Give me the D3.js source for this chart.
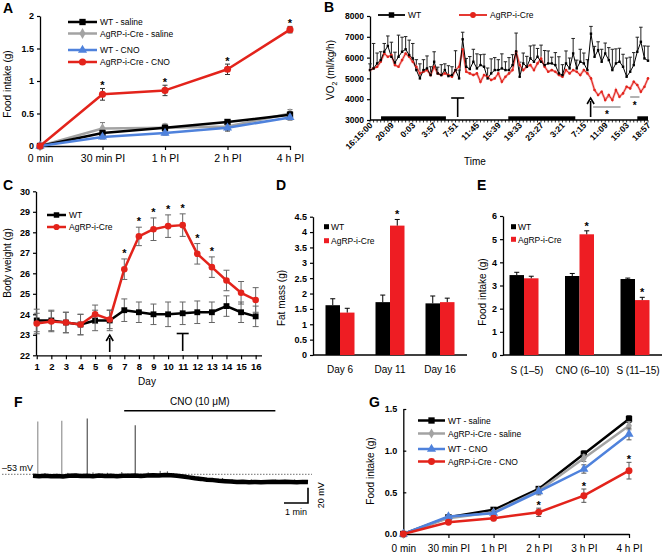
<!DOCTYPE html>
<html>
<head>
<meta charset="utf-8">
<script src="https://cdn.jsdelivr.net/npm/d3@7/dist/d3.min.js"></script>
<style>
  html,body{margin:0;padding:0;background:#fff;}
  svg{display:block;}
</style>
</head>
<body>
<svg id="fig" width="665" height="557"></svg>
<script>
// ================= DATA =================
// Panel A
const catsA = ["0 min","30 min PI","1 h PI","2 h PI","4 h PI"];
const yTicksA = [0,0.5,1,1.5,2];
const legendA = ["WT - saline","AgRP-i-Cre - saline","WT - CNO","AgRP-i-Cre - CNO"];
const wtSalineA = [0,0.20,0.28,0.37,0.48];
const wtSalineErrA = [0,0.04,0.04,0.03,0.05];
const agrpSalineA = [0,0.27,0.28,0.30,0.50];
const agrpSalineErrA = [0,0.09,0.06,0.05,0.06];
const wtCnoA = [0,0.14,0.20,0.28,0.44];
const wtCnoErrA = [0,0.03,0.03,0.05,0.04];
const agrpCnoA = [0,0.795,0.855,1.18,1.79];
const agrpCnoErrA = [0,0.09,0.08,0.08,0.05];
const starsA = [0,1,1,1,1];

// Panel B
const timeLabelsB = ["16:15:00","20:09","0:03","3:57","7:51","11:45","15:39","19:33","23:27","3:21","7:15","11:09","15:03","18:57"];
const samplesPerLabelB = 6;
const yTicksB = [3000,4000,5000,6000,7000,8000];
const legendB = ["WT","AgRP-i-Cre"];
const wtVO2 = [5400,5480,5720,5880,6280,6560,6040,5760,6040,6280,6400,6120,5960,5400,5000,5400,5480,5160,5800,5240,
  5160,5400,5110,5160,5400,5000,6880,5560,5450,5800,5480,5640,5560,5000,5240,5400,5400,5480,5400,5400,
  5640,6300,5080,5720,5560,5960,5800,6040,5800,5640,5720,5720,5640,5240,5160,5720,5480,6200,5480,5800,
  5720,5400,7150,6040,6360,5800,6200,5880,5400,5720,5800,5560,5080,5320,5640,6280,6760,5960,5850];
const wtVO2Err = [300,1200,500,400,400,480,700,500,1040,700,610,720,720,500,700,500,600,400,480,300,
  500,300,500,400,930,400,340,400,600,600,700,500,600,500,700,600,500,700,400,600,
  500,880,700,500,500,600,800,400,800,700,600,300,600,800,500,600,500,720,400,600,
  500,500,350,500,400,600,500,600,1000,700,650,600,900,700,600,700,700,600,700];
const agrpVO2 = [5400,5480,5560,5800,6200,6040,6120,5640,5560,5880,6200,6040,5800,5560,5240,5320,5400,5160,5560,5240,
  5160,5240,5160,5080,5400,5560,6400,5320,5240,5160,5240,4840,5160,5080,4920,5000,5240,4840,5080,5240,
  5400,6280,5640,5400,5560,5640,5400,5720,5960,5560,5320,5400,5320,5160,5080,5400,5240,5400,5320,5160,
  5400,5240,5000,4440,4200,4360,3960,4200,3960,4440,4120,4280,4600,4520,4840,4680,4360,4600,5000];
const darkPeriodsB = [[3.1,21.3],[38.8,57.6],[75,78]];
const injectionB = 61.9;       // sample index of arrow (CNO)
const stopB = 24.6;            // sample index of "T"
const sigLinesB = [[62.6,70.3],[73,75.6]];

// Panel C
const daysC = [1,2,3,4,5,6,7,8,9,10,11,12,13,14,15,16];
const yTicksC = [22,23,24,25,26,27,28,29,30];
const legendC = ["WT","AgRP-i-Cre"];
const wtBW = [23.7,23.7,23.6,23.5,23.7,23.7,24.2,24.1,24.0,24.0,24.05,24.1,24.1,24.4,24.1,23.9];
const wtBWErr = [0.55,0.5,0.5,0.5,0.5,0.5,0.55,0.5,0.5,0.6,0.55,0.55,0.5,0.5,0.5,0.5];
const agrpBW = [23.55,23.65,23.6,23.5,24.0,23.75,26.2,27.8,28.15,28.3,28.35,26.95,26.3,25.65,25.05,24.7];
const agrpBWErr = [0.5,0.5,0.5,0.5,0.45,0.45,0.5,0.45,0.55,0.55,0.55,0.5,0.5,0.5,0.55,0.6];
const starsC = [0,0,0,0,0,0,1,1,1,1,1,1,1,0,0,0];
const arrowDayC = 6, stopDayC = 11;

// Panel D
const catsD = ["Day 6","Day 11","Day 16"];
const yTicksD = [0,0.5,1,1.5,2,2.5,3,3.5,4,4.5];
const wtFat = [1.62,1.72,1.68];
const wtFatErr = [0.21,0.23,0.24];
const agrpFat = [1.38,4.21,1.72];
const agrpFatErr = [0.14,0.2,0.13];
const starsD = [0,1,0];

// Panel E
const catsE = ["S (1\u20135)","CNO (6\u201310)","S (11\u201315)"];
const yTicksE = [0,1,2,3,4,5,6];
const wtFoodE = [3.45,3.41,3.28];
const wtFoodErrE = [0.12,0.11,0.04];
const agrpFoodE = [3.31,5.21,2.37];
const agrpFoodErrE = [0.09,0.15,0.12];
const starsE = [0,1,1];

// Panel F (membrane potential, min / mV)
const traceT = [0,0.25,0.5,0.75,1,1.25,1.5,1.75,2,2.25,2.5,2.75,3,3.25,3.5,3.75,4,4.25,4.5,4.75,5,5.25,5.5,5.75,
  6,6.25,6.5,6.75,7,7.25,7.5,7.75,8,8.25,8.5,8.75,9,9.25,9.5,9.75,10,10.25,10.5,10.75,11,11.25,11.46];
const traceV = [-55.0,-55.6,-54.8,-55.4,-55.1,-55.8,-55.0,-54.6,-55.3,-54.9,-55.5,-54.7,-55.2,-54.8,-55.4,-54.9,
  -55.0,-54.5,-55.1,-54.6,-54.2,-54.7,-53.9,-54.3,-55.0,-55.9,-57.0,-58.2,-59.0,-60.1,-60.6,-61.5,-62.0,-62.4,
  -63.1,-62.8,-63.3,-63.0,-63.5,-63.1,-62.7,-63.2,-62.6,-63.0,-63.4,-62.9,-63.2];
const spikeT = [0.2,1.2,2.26,4.26];
const spikePeak = [16,17,20,11];
const fuzzT = [0.5,0.9,1.45,1.8,2.05,2.5,2.9,3.1,3.4,3.7,3.95,4.5,4.8,5.05,5.3,5.6,5.85,6.3,6.9,7.4,7.9,8.3,8.7,9.1,9.6,10.1,10.5,10.9,11.2];
const fuzzH = [3,2.5,4,3,2,5,3,4,2.5,5,3,3,4,2.5,6,5,3,3,2.5,2,4,3,2.5,3.5,2,3,2.5,3.5,2.5];
const restingV = -53;
const cnoWindowF = [3.8,10.1];

// Panel G
const catsG = ["0 min","30 min PI","1 h PI","2 h PI","3 h PI","4 h PI"];
const yTicksG = [0,0.5,1,1.5];
const legendG = ["WT - saline","AgRP-i-Cre - saline","WT - CNO","AgRP-i-Cre - CNO"];
const wtSalineG = [0,0.20,0.29,0.54,0.96,1.38];
const wtSalineErrG = [0,0.02,0.02,0.03,0.04,0.04];
const agrpSalineG = [0,0.19,0.26,0.52,0.91,1.30];
const agrpSalineErrG = [0,0.02,0.02,0.03,0.04,0.05];
const wtCnoG = [0,0.21,0.25,0.51,0.78,1.20];
const wtCnoErrG = [0,0.02,0.02,0.04,0.05,0.07];
const agrpCnoG = [0,0.14,0.19,0.26,0.46,0.76];
const agrpCnoErrG = [0,0.02,0.03,0.05,0.08,0.10];
const starsG = [0,0,0,1,1,1];

// ================= STYLE =================
const FONT = '"Liberation Sans", Arial, Helvetica, sans-serif';
const BLACK = "#000", GRAY = "#a3a3a3", BLUE = "#4f82dc", RED = "#e3231b", BARRED = "#ee1d23";

const svg = d3.select("#fig").attr("font-family", FONT);
svg.append("rect").attr("width",665).attr("height",557).attr("fill","#fff");

function txt(x, y, s, o = {}) {
  const t = svg.append("text").attr("x", x).attr("y", y).text(s)
    .attr("font-size", o.size || 10).attr("font-weight", o.bold ? "bold" : "normal")
    .attr("text-anchor", o.anchor || "start").attr("fill", o.fill || "#000");
  if (o.rotate != null) t.attr("transform", `rotate(${o.rotate},${x},${y})`);
  return t;
}
function styleAxis(g, o) {
  g.attr("font-family", FONT);
  g.selectAll("text").attr("font-size", o.size || 9).attr("font-weight", o.bold === false ? "normal" : "bold").attr("fill", "#000");
  g.select(".domain").attr("stroke", "#000").attr("stroke-width", 1.3);
  g.selectAll(".tick line").attr("stroke", "#000").attr("stroke-width", 1.2);
}
function yAxis(scale, x, ticks, fmt, o = {}) {
  const ax = d3.axisLeft(scale).tickValues(ticks).tickFormat(fmt).tickSizeOuter(0)
    .tickSizeInner(o.inner ?? 3).tickPadding(o.pad ?? 3);
  const g = svg.append("g").attr("transform", `translate(${x},0)`).call(ax);
  styleAxis(g, o);
  return g;
}
function xAxis(scale, y, o = {}) {
  const ax = d3.axisBottom(scale).tickSizeOuter(0).tickSizeInner(o.inner ?? 4).tickPadding(o.pad ?? 3);
  if (o.ticks) ax.tickValues(o.ticks);
  if (o.fmt) ax.tickFormat(o.fmt);
  const g = svg.append("g").attr("transform", `translate(0,${y})`).call(ax);
  styleAxis(g, o);
  return g;
}
function errBar(g, cx, y1, y2, capW, color, both) {
  g.append("line").attr("x1", cx).attr("x2", cx).attr("y1", y1).attr("y2", y2).attr("stroke", color).attr("stroke-width", 1);
  g.append("line").attr("x1", cx - capW / 2).attr("x2", cx + capW / 2).attr("y1", y2).attr("y2", y2).attr("stroke", color).attr("stroke-width", 1);
  if (both) g.append("line").attr("x1", cx - capW / 2).attr("x2", cx + capW / 2).attr("y1", y1).attr("y2", y1).attr("stroke", color).attr("stroke-width", 1);
}
function lineSeries(x, y, cats, vals, errs, o) {
  const g = svg.append("g");
  g.append("path").datum(vals).attr("fill", "none").attr("stroke", o.color).attr("stroke-width", o.lw || 2.5)
    .attr("stroke-linejoin", "round")
    .attr("d", d3.line().x((d, i) => x(cats[i])).y(d => y(d)));
  vals.forEach((v, i) => {
    if (!errs[i]) return;
    errBar(g, x(cats[i]), y(v - errs[i]), y(v + errs[i]), o.cap || 5, o.errColor || "#333", true);
  });
  g.selectAll("path.m").data(vals).join("path").attr("class", "m")
    .attr("transform", (d, i) => `translate(${x(cats[i])},${y(d)})`)
    .attr("d", d3.symbol().type(o.sym).size(o.size || 40)).attr("fill", o.color);
}
function legendItem(x1, x2, y, color, sym, size, label, fs, lw) {
  svg.append("line").attr("x1", x1).attr("x2", x2).attr("y1", y).attr("y2", y).attr("stroke", color).attr("stroke-width", lw || 2.5);
  svg.append("path").attr("transform", `translate(${(x1 + x2) / 2},${y})`).attr("d", d3.symbol().type(sym).size(size)()).attr("fill", color);
  txt(x2 + 3, y + 3, label, { size: fs || 8.5 });
}
function star(x, yTop, size) { txt(x, yTop, "*", { size: size || 11, bold: true, anchor: "middle" }); }
function arrowUp(x, yBottom, yTop) {
  svg.append("line").attr("x1", x).attr("x2", x).attr("y1", yBottom).attr("y2", yTop + 3).attr("stroke", "#000").attr("stroke-width", 1.6);
  svg.append("path").attr("d", `M${x - 3.5},${yTop + 6} L${x},${yTop} L${x + 3.5},${yTop + 6}`).attr("fill", "none").attr("stroke", "#000").attr("stroke-width", 1.6);
}
function tee(x, yBottom, yTop, w) {
  svg.append("line").attr("x1", x).attr("x2", x).attr("y1", yBottom).attr("y2", yTop).attr("stroke", "#000").attr("stroke-width", 1.6);
  svg.append("line").attr("x1", x - w / 2).attr("x2", x + w / 2).attr("y1", yTop).attr("y2", yTop).attr("stroke", "#000").attr("stroke-width", 1.6);
}

// ================= PANEL A =================
txt(3, 13, "A", { size: 14, bold: true });
const xA = d3.scalePoint(catsA, [40, 290]);
const yA = d3.scaleLinear([0, 2], [146, 16]);
yAxis(yA, 40, yTicksA, d3.format("~g"), { size: 9 });
xAxis(xA, 146, { bold: false, size: 10.5, pad: 5 });
txt(11, 84, "Food intake (g)", { size: 10, anchor: "middle", rotate: -90 });
lineSeries(xA, yA, catsA, agrpSalineA, agrpSalineErrA, { color: GRAY, sym: d3.symbolDiamond, size: 34, errColor: "#777" });
lineSeries(xA, yA, catsA, wtSalineA, wtSalineErrA, { color: BLACK, sym: d3.symbolSquare, size: 40 });
lineSeries(xA, yA, catsA, wtCnoA, wtCnoErrA, { color: BLUE, sym: d3.symbolTriangle, size: 36 });
lineSeries(xA, yA, catsA, agrpCnoA, agrpCnoErrA, { color: RED, sym: d3.symbolCircle, size: 40 });
agrpCnoA.forEach((v, i) => { if (starsA[i]) star(xA(catsA[i]), yA(v + agrpCnoErrA[i]) + 1); });
legendItem(68, 97, 22, BLACK, d3.symbolSquare, 40, legendA[0]);
legendItem(68, 97, 33.5, GRAY, d3.symbolDiamond, 34, legendA[1]);
legendItem(68, 97, 50, BLUE, d3.symbolTriangle, 36, legendA[2]);
legendItem(68, 97, 62, RED, d3.symbolCircle, 40, legendA[3]);

// ================= PANEL B =================
txt(324, 12, "B", { size: 14, bold: true });
const nB = wtVO2.length;
const xB = d3.scaleLinear([0, nB - 1], [370, 648]);
const yB = d3.scaleLinear([3000, 8000], [120, 16]);
yAxis(yB, 370, yTicksB, d3.format("d"), { size: 8.5 });
svg.append("line").attr("x1", 370).attr("x2", 648).attr("y1", 120).attr("y2", 120).attr("stroke", "#000").attr("stroke-width", 1.3);
d3.range(nB).forEach(i => svg.append("line").attr("x1", xB(i)).attr("x2", xB(i)).attr("y1", 120).attr("y2", 122.5).attr("stroke", "#000").attr("stroke-width", 0.8));
darkPeriodsB.forEach(([a, b]) => svg.append("rect").attr("x", xB(a)).attr("width", xB(b) - xB(a)).attr("y", 116.3).attr("height", 3.7).attr("fill", "#000"));
timeLabelsB.forEach((s, k) => {
  const x = xB(k * samplesPerLabelB) + 3;
  svg.append("text").attr("transform", `translate(${x},126) rotate(-45)`).attr("text-anchor", "end")
    .attr("font-size", 8.5).attr("font-weight", "bold").text(s);
});
txt(475, 165, "Time", { size: 10, anchor: "middle" });
{
  const t = svg.append("text").attr("transform", "translate(334,70) rotate(-90)").attr("text-anchor", "middle").attr("font-size", 10);
  t.append("tspan").text("VO");
  t.append("tspan").attr("font-size", 7).attr("dy", 3).text("2");
  t.append("tspan").attr("dy", -3).text(" (ml/kg/h)");
}
{
  const gB = svg.append("g");
  wtVO2.forEach((v, i) => errBar(gB, xB(i), yB(v), yB(v + wtVO2Err[i]), 3.5, "#222", false));
  gB.append("path").datum(agrpVO2).attr("fill", "none").attr("stroke", "#f3a6a6").attr("stroke-width", 2.4)
    .attr("d", d3.line().x((d, i) => xB(i)).y(d => yB(d)));
  gB.append("path").datum(agrpVO2).attr("fill", "none").attr("stroke", RED).attr("stroke-width", 1)
    .attr("d", d3.line().x((d, i) => xB(i)).y(d => yB(d)));
  gB.append("path").datum(wtVO2).attr("fill", "none").attr("stroke", "#000").attr("stroke-width", 1)
    .attr("d", d3.line().x((d, i) => xB(i)).y(d => yB(d)));
  gB.selectAll("circle.r").data(agrpVO2).join("circle").attr("class", "r").attr("cx", (d, i) => xB(i)).attr("cy", d => yB(d)).attr("r", 1.3).attr("fill", RED);
  gB.selectAll("rect.k").data(wtVO2).join("rect").attr("class", "k").attr("x", (d, i) => xB(i) - 1.2).attr("y", d => yB(d) - 1.2).attr("width", 2.4).attr("height", 2.4).attr("fill", "#000");
}
tee(xB(stopB), 117, 98, 13);
arrowUp(xB(injectionB), 117, 98);
svg.append("line").attr("x1", xB(sigLinesB[0][0])).attr("x2", xB(sigLinesB[0][1])).attr("y1", 107).attr("y2", 107).attr("stroke", "#999").attr("stroke-width", 1.5);
svg.append("line").attr("x1", xB(sigLinesB[1][0])).attr("x2", xB(sigLinesB[1][1])).attr("y1", 97).attr("y2", 97).attr("stroke", "#999").attr("stroke-width", 1.5);
star((xB(sigLinesB[0][0]) + xB(sigLinesB[0][1])) / 2, 118, 10);
star((xB(sigLinesB[1][0]) + xB(sigLinesB[1][1])) / 2, 109, 10);
legendItem(378, 405, 15, "#000", d3.symbolSquare, 30, legendB[0], 8.5, 1.8);
legendItem(459, 487, 15, RED, d3.symbolCircle, 26, legendB[1], 8.5, 1.8);

// ================= PANEL C =================
txt(3, 190, "C", { size: 14, bold: true });
const xC = d3.scaleLinear([0.95, 16.4], [36, 261.5]);
const yC = d3.scaleLinear([22, 30], [355.3, 191.3]);
yAxis(yC, 36, yTicksC, d3.format("d"), { size: 9 });
xAxis(xC, 355.3, { ticks: daysC, fmt: d3.format("d"), size: 9.5, pad: 4 });
txt(147, 385, "Day", { size: 10, anchor: "middle" });
txt(11, 263, "Body weight (g)", { size: 10, anchor: "middle", rotate: -90 });
lineSeries(xC, yC, daysC, wtBW, wtBWErr, { color: BLACK, sym: d3.symbolSquare, size: 34, errColor: "#666", cap: 6 });
lineSeries(xC, yC, daysC, agrpBW, agrpBWErr, { color: RED, sym: d3.symbolCircle, size: 34, errColor: "#666", cap: 6 });
agrpBW.forEach((v, i) => { if (starsC[i]) star(xC(daysC[i]), yC(v + agrpBWErr[i]) - 2); });
arrowUp(xC(arrowDayC), 352, 335);
tee(xC(stopDayC), 351, 333.5, 12);
legendItem(47, 66, 215, BLACK, d3.symbolSquare, 30, legendC[0], 8.5, 2.5);
legendItem(47, 66, 227, RED, d3.symbolCircle, 30, legendC[1], 8.5, 2.5);

// ================= PANEL D =================
txt(276, 190, "D", { size: 14, bold: true });
const xD = d3.scalePoint(catsD, [340, 440]);
const yD = d3.scaleLinear([0, 4.5], [355, 216.7]);
yAxis(yD, 313, yTicksD, d3.format("~g"), { size: 9 });
svg.append("line").attr("x1", 313).attr("x2", 467).attr("y1", 355).attr("y2", 355).attr("stroke", "#000").attr("stroke-width", 1.3);
txt(285, 298, "Fat mass (g)", { size: 10, anchor: "middle", rotate: -90 });
{
  const bw = 14.5, g = svg.append("g");
  catsD.forEach((c, i) => {
    const cx = xD(c);
    g.append("rect").attr("x", cx - bw).attr("y", yD(wtFat[i])).attr("width", bw).attr("height", yD(0) - yD(wtFat[i])).attr("fill", "#000");
    g.append("rect").attr("x", cx).attr("y", yD(agrpFat[i])).attr("width", bw).attr("height", yD(0) - yD(agrpFat[i])).attr("fill", BARRED);
    errBar(g, cx - bw / 2, yD(wtFat[i]), yD(wtFat[i] + wtFatErr[i]), 5, "#000", false);
    errBar(g, cx + bw / 2, yD(agrpFat[i]), yD(agrpFat[i] + agrpFatErr[i]), 5, "#000", false);
    if (starsD[i]) star(cx + bw / 2, yD(agrpFat[i] + agrpFatErr[i]) - 1);
    txt(cx, 373, c, { size: 10, anchor: "middle" });
  });
  g.append("rect").attr("x", 324).attr("y", 224.2).attr("width", 5).attr("height", 5).attr("fill", "#000");
  txt(331, 230, "WT", { size: 8.5 });
  g.append("rect").attr("x", 324).attr("y", 238.2).attr("width", 5).attr("height", 5).attr("fill", BARRED);
  txt(331, 244, "AgRP-i-Cre", { size: 8.5 });
}

// ================= PANEL E =================
txt(477, 190, "E", { size: 14, bold: true });
const xE = d3.scalePoint(catsE, [524, 635]);
const yE = d3.scaleLinear([0, 6], [355, 216]);
yAxis(yE, 503, yTicksE, d3.format("d"), { size: 9 });
svg.append("line").attr("x1", 503).attr("x2", 662).attr("y1", 355).attr("y2", 355).attr("stroke", "#000").attr("stroke-width", 1.3);
txt(486, 292, "Food intake (g)", { size: 10, anchor: "middle", rotate: -90 });
{
  const bw = 14.5, g = svg.append("g");
  catsE.forEach((c, i) => {
    const cx = xE(c);
    g.append("rect").attr("x", cx - bw).attr("y", yE(wtFoodE[i])).attr("width", bw).attr("height", yE(0) - yE(wtFoodE[i])).attr("fill", "#000");
    g.append("rect").attr("x", cx).attr("y", yE(agrpFoodE[i])).attr("width", bw).attr("height", yE(0) - yE(agrpFoodE[i])).attr("fill", BARRED);
    errBar(g, cx - bw / 2, yE(wtFoodE[i]), yE(wtFoodE[i] + wtFoodErrE[i]), 5, "#000", false);
    errBar(g, cx + bw / 2, yE(agrpFoodE[i]), yE(agrpFoodE[i] + agrpFoodErrE[i]), 5, "#000", false);
    if (starsE[i]) star(cx + bw / 2, yE(agrpFoodE[i] + agrpFoodErrE[i]) - 1);
    txt(cx + 3, 374, c, { size: 10, anchor: "middle" });
  });
  g.append("rect").attr("x", 511).attr("y", 224.2).attr("width", 5).attr("height", 5).attr("fill", "#000");
  txt(518, 230, "WT", { size: 8.5 });
  g.append("rect").attr("x", 511).attr("y", 236.8).attr("width", 5).attr("height", 5).attr("fill", BARRED);
  txt(518, 242.5, "AgRP-i-Cre", { size: 8.5 });
}

// ================= PANEL F =================
txt(14, 407, "F", { size: 14, bold: true });
const xF = d3.scaleLinear([0, 11.46], [33, 308]);
const yF = d3.scaleLinear([-53, -33], [474.3, 459]);
svg.append("line").attr("x1", xF(cnoWindowF[0])).attr("x2", xF(cnoWindowF[1])).attr("y1", 410.7).attr("y2", 410.7).attr("stroke", "#000").attr("stroke-width", 1.5);
txt((xF(cnoWindowF[0]) + xF(cnoWindowF[1])) / 2, 405, "CNO (10 \u03bcM)", { size: 10, anchor: "middle" });
svg.append("line").attr("x1", 2).attr("x2", 312).attr("y1", yF(restingV)).attr("y2", yF(restingV)).attr("stroke", "#333").attr("stroke-width", 0.7).attr("stroke-dasharray", "1.5,1.5");
txt(2, 471, "\u201353 mV", { size: 9 });
{
  const g = svg.append("g");
  const interp = t => { let k = d3.bisectLeft(traceT, t); k = Math.max(1, Math.min(traceT.length - 1, k)); const f = (t - traceT[k - 1]) / (traceT[k] - traceT[k - 1]); return traceV[k - 1] + f * (traceV[k] - traceV[k - 1]); };
  spikeT.forEach((t, i) => g.append("line").attr("x1", xF(t)).attr("x2", xF(t)).attr("y1", yF(interp(t))).attr("y2", yF(spikePeak[i])).attr("stroke", i < 2 ? "#8a8a8a" : "#444").attr("stroke-width", 1.1));
  fuzzT.forEach((t, i) => g.append("line").attr("x1", xF(t)).attr("x2", xF(t)).attr("y1", yF(interp(t))).attr("y2", yF(interp(t) + fuzzH[i])).attr("stroke", "#222").attr("stroke-width", 0.8));
  g.append("path").datum(traceV).attr("fill", "none").attr("stroke", "#000").attr("stroke-width", 4.5).attr("stroke-linejoin", "round")
    .attr("d", d3.line().x((d, i) => xF(traceT[i])).y(d => yF(d)));
}
{
  const x1 = xF(10.46), x2 = xF(11.46), yb = 503, h = yF(-53) - yF(-33);
  svg.append("path").attr("d", `M${x1},${yb} L${x2},${yb} L${x2},${yb - h}`).attr("fill", "none").attr("stroke", "#000").attr("stroke-width", 1.6);
  txt((x1 + x2) / 2, 515, "1 min", { size: 9, anchor: "middle" });
  txt(324, yb - h / 2, "20 mV", { size: 9, anchor: "middle", rotate: -90 });
}

// ================= PANEL G =================
txt(369, 407, "G", { size: 14, bold: true });
const xG = d3.scalePoint(catsG, [403.3, 629]);
const yG = d3.scaleLinear([0, 1.5], [534, 409]);
yAxis(yG, 403.3, yTicksG, d3.format(".1f"), { size: 9, inner: -3, pad: 6 });
xAxis(xG, 534, { bold: false, size: 10, pad: 7, inner: 4 });
txt(374, 471, "Food intake (g)", { size: 10, anchor: "middle", rotate: -90 });
lineSeries(xG, yG, catsG, wtSalineG, wtSalineErrG, { color: BLACK, sym: d3.symbolSquare, size: 40 });
lineSeries(xG, yG, catsG, agrpSalineG, agrpSalineErrG, { color: GRAY, sym: d3.symbolDiamond, size: 30, errColor: "#777" });
lineSeries(xG, yG, catsG, wtCnoG, wtCnoErrG, { color: BLUE, sym: d3.symbolTriangle, size: 36, errColor: "#555" });
lineSeries(xG, yG, catsG, agrpCnoG, agrpCnoErrG, { color: RED, sym: d3.symbolCircle, size: 38, errColor: "#555" });
agrpCnoG.forEach((v, i) => { if (starsG[i]) star(xG(catsG[i]), yG(v + agrpCnoErrG[i]) + 1); });
legendItem(418, 445, 420.5, BLACK, d3.symbolSquare, 40, legendG[0]);
legendItem(418, 445, 433.5, GRAY, d3.symbolDiamond, 30, legendG[1]);
legendItem(418, 445, 449, BLUE, d3.symbolTriangle, 36, legendG[2]);
legendItem(418, 445, 461.5, RED, d3.symbolCircle, 38, legendG[3]);
</script>
</body>
</html>
